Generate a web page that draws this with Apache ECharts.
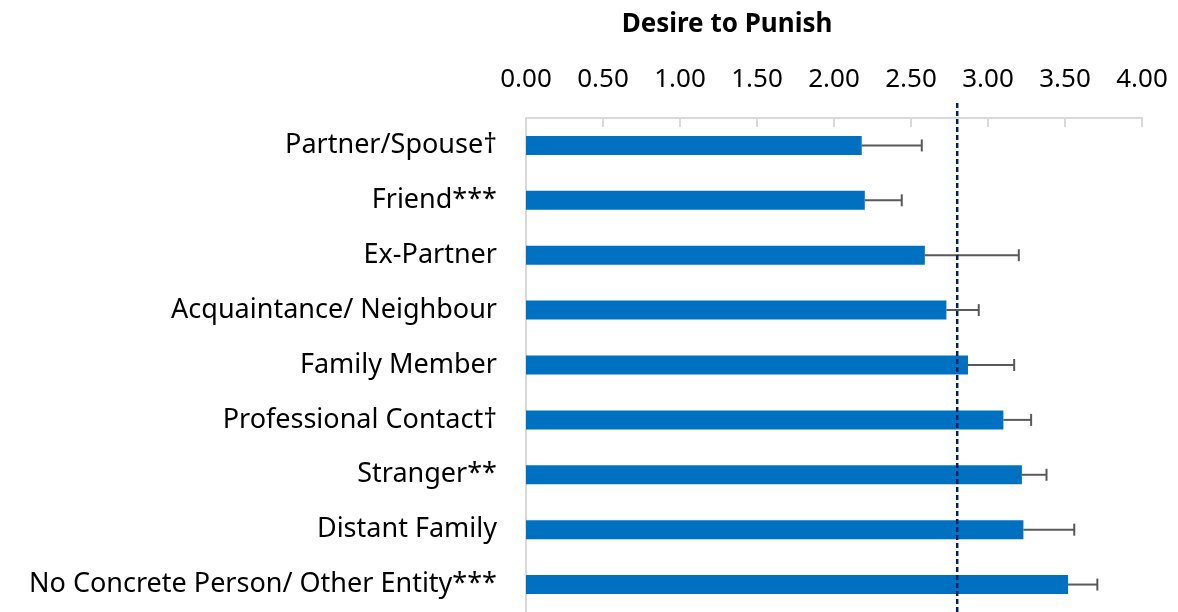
<!DOCTYPE html>
<html style="height: 100%">
   <head>
       <meta charset="utf-8">
       <script src="https://cdn.jsdelivr.net/npm/echarts@6/dist/echarts.min.js"></script>
       <title>Desire to Punish</title>
   </head>
   <body style="height: 100%; margin: 0">
       <div id="container" style="width: 1178px; height: 612px"></div>
       <script type="text/javascript">

let categories = [
    'Partner/Spouse\u2020',
    'Friend***',
    'Ex-Partner',
    'Acquaintance/ Neighbour',
    'Family Member',
    'Professional Contact\u2020',
    'Stranger**',
    'Distant Family',
    'No Concrete Person/ Other Entity***'
]
let means = [2.18, 2.20, 2.59, 2.73, 2.87, 3.10, 3.22, 3.23, 3.52]
let errors = [0.39, 0.24, 0.61, 0.21, 0.30, 0.18, 0.16, 0.33, 0.19]
let referenceLine = 2.80
let fontName = 'Noto Sans'

let errData = means.map((m, i) => [m, errors[i], i])

let dom = document.getElementById("container");
let chart = echarts.init(dom);
chart.setOption({
    animation: false,
    title: {
        text: 'Desire to Punish',
        left: 722,
        top: 7,
        textAlign: 'center',
        textStyle: {fontFamily: fontName, fontSize: 26, fontWeight: 'bold', color: '#000'}
    },
    grid: {left: 526, right: 36, top: 118, bottom: -3},
    xAxis: {
        type: 'value',
        position: 'top',
        min: 0,
        max: 4,
        interval: 0.5,
        axisLine: {show: true, lineStyle: {color: '#d9d9d9', width: 2}},
        axisTick: {show: true, inside: true, length: 9, lineStyle: {color: '#d9d9d9', width: 2}},
        splitLine: {show: false},
        axisLabel: {
            margin: 25,
            fontFamily: fontName,
            fontSize: 26,
            color: '#000',
            formatter: v => v.toFixed(2)
        }
    },
    yAxis: {
        type: 'category',
        inverse: true,
        data: categories,
        axisLine: {show: true, lineStyle: {color: '#d9d9d9', width: 2}},
        axisTick: {show: false},
        axisLabel: {margin: 29, fontFamily: fontName, fontSize: 27, color: '#000'}
    },
    series: [
        {
            type: 'bar',
            data: means,
            barWidth: 19,
            itemStyle: {color: '#0070c0'}
        },
        {
            type: 'custom',
            data: errData,
            encode: {x: 0, y: 2},
            z: 3,
            renderItem: function (params, api) {
                let m = api.value(0), e = api.value(1), idx = api.value(2)
                let p0 = api.coord([m, idx])
                let p1 = api.coord([m + e, idx])
                let style = {stroke: '#595959', lineWidth: 2}
                return {
                    type: 'group',
                    children: [
                        {type: 'line', shape: {x1: p0[0], y1: p0[1], x2: p1[0], y2: p1[1]}, style: style},
                        {type: 'line', shape: {x1: p1[0], y1: p1[1] - 6, x2: p1[0], y2: p1[1] + 6}, style: style}
                    ]
                }
            }
        },
        {
            type: 'custom',
            data: [[referenceLine, 0]],
            encode: {x: 0, y: 1},
            z: 4,
            renderItem: function (params, api) {
                let p = api.coord([api.value(0), 0])
                let cs = params.coordSys
                return {
                    type: 'line',
                    shape: {x1: p[0], y1: cs.y - 15, x2: p[0], y2: cs.y + cs.height},
                    style: {stroke: '#002060', lineWidth: 2.5, lineDash: [5, 3]}
                }
            }
        }
    ]
}, true)

       </script>
   </body>
</html>
